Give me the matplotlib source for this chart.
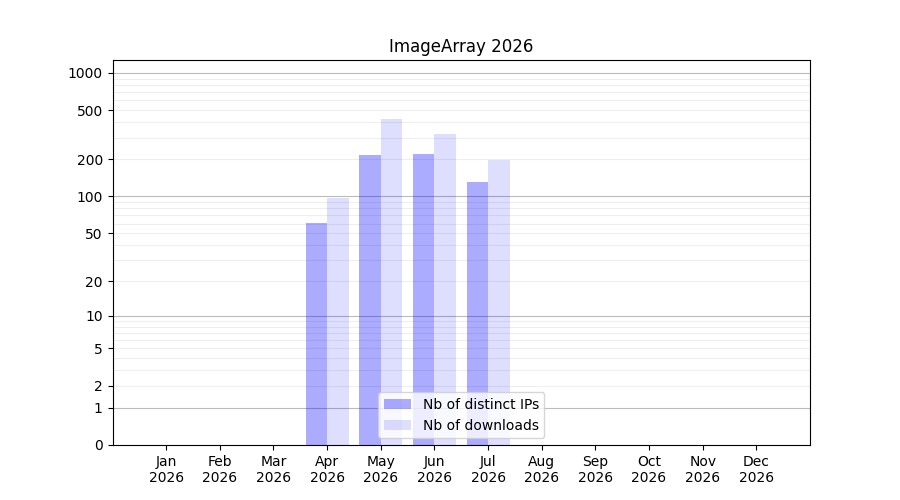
import numpy as np
import matplotlib
matplotlib.use("Agg")
import matplotlib.pyplot as plt
from matplotlib.ticker import FixedLocator

months = ["Jan", "Feb", "Mar", "Apr", "May", "Jun",
          "Jul", "Aug", "Sep", "Oct", "Nov", "Dec"]
year = 2026
ips = [0, 0, 0, 61, 217, 221, 131, 0, 0, 0, 0, 0]
downloads = [0, 0, 0, 97, 425, 321, 198, 0, 0, 0, 0, 0]

major_ticks = [0, 1, 2, 5, 10, 20, 50, 100, 200, 500, 1000]
major_grid = [1, 10, 100, 1000]
minor_grid = [v * d for d in (1, 10, 100) for v in range(2, 10)]

x = np.arange(1, len(months) + 1)
w = 0.4

fig, ax = plt.subplots(figsize=(9, 5), dpi=100)
ax.set_yscale("function", functions=(lambda v: np.log10(1 + np.clip(v, 0, None)),
                                     lambda v: 10 ** v - 1))

ax.bar(x - w / 2, ips, w, color="blue", alpha=0.33, label="Nb of distinct IPs")
ax.bar(x + w / 2, downloads, w, color="blue", alpha=0.13, label="Nb of downloads")

for g in major_grid:
    ax.axhline(g, color="#bbbbbb", lw=0.8, zorder=0)
for g in minor_grid:
    ax.axhline(g, color="#eeeeee", lw=0.8, zorder=0)

ax.yaxis.set_major_locator(FixedLocator(major_ticks))
ax.yaxis.set_minor_locator(FixedLocator([]))
ax.set_yticklabels([str(t) for t in major_ticks])
ax.set_ylim(0, 1270)

ax.set_xticks(x)
ax.set_xticklabels([f"{m}\n{year}" for m in months])
ax.set_xlim(0, 13)

ax.set_title(f"ImageArray {year}")
ax.legend(loc="lower center")

plt.savefig("out.png")
